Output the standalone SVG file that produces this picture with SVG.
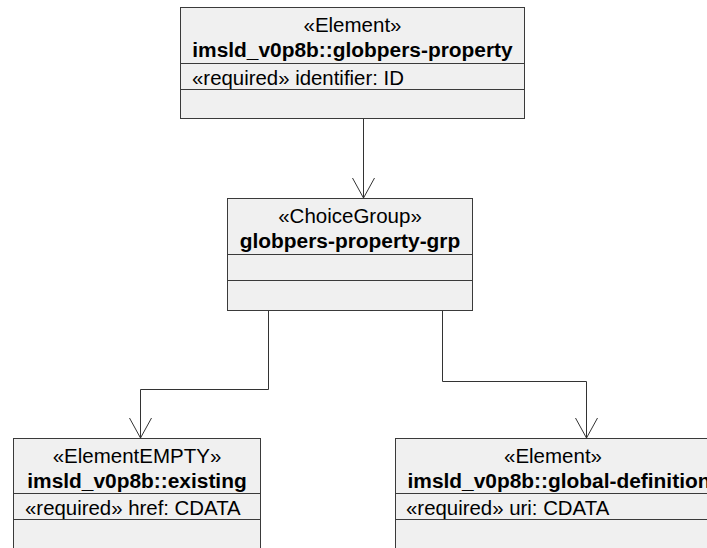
<svg xmlns="http://www.w3.org/2000/svg" width="707" height="548" viewBox="0 0 707 548">
<style>
.box{fill:#f0f0f0;stroke:#3a3a3a;stroke-width:1}
.div{stroke:#3a3a3a;stroke-width:1}
.st{font-family:"Liberation Sans",Arial,sans-serif;font-size:20.5px;fill:#000;text-anchor:middle}
.nm{font-family:"Liberation Sans",Arial,sans-serif;font-size:20.9px;font-weight:bold;fill:#000;text-anchor:middle}
.at{font-family:"Liberation Sans",Arial,sans-serif;font-size:20.4px;fill:#000}
.con{fill:none;stroke:#333;stroke-width:1}
</style>
<defs>
<marker id="arr" viewBox="-22 -12 24 24" refX="0" refY="0" markerWidth="24" markerHeight="24" markerUnits="userSpaceOnUse" orient="auto">
<path d="M-20,-11 L0,0 L-20,11" fill="none" stroke="#333" stroke-width="1"/>
</marker>
</defs>
<rect width="707" height="548" fill="#fff"/>
<g id="connectors">
<path class="con" d="M363.5,118 L363.5,198" marker-end="url(#arr)"/>
<path class="con" d="M268.5,310 L268.5,389.5 L140.5,389.5 L140.5,438" marker-end="url(#arr)"/>
<path class="con" d="M442.5,310 L442.5,381.5 L586.5,381.5 L586.5,438" marker-end="url(#arr)"/>
</g>
<g id="globpers-property">
<rect class="box" x="180.5" y="7.5" width="344" height="111"/>
<line class="div" x1="180.5" y1="63.5" x2="524.5" y2="63.5"/>
<line class="div" x1="180.5" y1="89.5" x2="524.5" y2="89.5"/>
<text class="st" x="352.5" y="32">«Element»</text>
<text class="nm" x="352.5" y="57">imsld_v0p8b::globpers-property</text>
<text class="at" x="192" y="85">«required» identifier: ID</text>
</g>
<g id="globpers-property-grp">
<rect class="box" x="227.5" y="198.5" width="245" height="112"/>
<line class="div" x1="227.5" y1="254.5" x2="472.5" y2="254.5"/>
<line class="div" x1="227.5" y1="280.5" x2="472.5" y2="280.5"/>
<text class="st" x="350" y="223">«ChoiceGroup»</text>
<text class="nm" x="350" y="248">globpers-property-grp</text>
</g>
<g id="existing">
<rect class="box" x="13.5" y="438.5" width="247" height="130"/>
<line class="div" x1="13.5" y1="493.5" x2="260.5" y2="493.5"/>
<line class="div" x1="13.5" y1="519.5" x2="260.5" y2="519.5"/>
<text class="st" x="137" y="463">«ElementEMPTY»</text>
<text class="nm" x="137" y="488">imsld_v0p8b::existing</text>
<text class="at" x="25" y="515">«required» href: CDATA</text>
</g>
<g id="global-definition">
<rect class="box" x="395.5" y="438.5" width="330" height="130"/>
<line class="div" x1="395.5" y1="493.5" x2="725.5" y2="493.5"/>
<line class="div" x1="395.5" y1="519.5" x2="725.5" y2="519.5"/>
<text class="st" x="553" y="463">«Element»</text>
<text class="nm" x="559" y="488">imsld_v0p8b::global-definition</text>
<text class="at" x="406" y="515">«required» uri: CDATA</text>
</g>
</svg>
